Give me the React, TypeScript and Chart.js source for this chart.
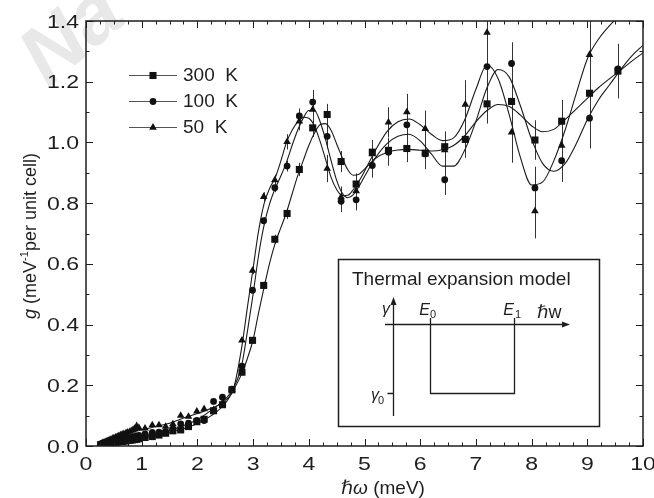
import React, { useEffect, useRef } from "react";
import { Chart, registerables } from "chart.js";

Chart.register(...registerables);

const FONT = "'Liberation Sans', Arial, Helvetica, 'DejaVu Sans', sans-serif";
const INK = "#1e1e1e";

// measured energies (meV)
const energies = [
  0.26, 0.28, 0.30, 0.32, 0.34, 0.36, 0.38, 0.40, 0.43, 0.45, 0.48, 0.50, 0.53,
  0.56, 0.59, 0.62, 0.65, 0.68, 0.72, 0.75, 0.79, 0.83, 0.87, 0.91, 0.95,
  1.06, 1.19, 1.31, 1.43, 1.56, 1.70, 1.84, 1.99, 2.12, 2.29, 2.45, 2.62,
  2.80, 2.99, 3.19, 3.39, 3.61, 3.83, 4.07, 4.33, 4.58, 4.85, 5.14, 5.43,
  5.76, 6.09, 6.44, 6.81, 7.20, 7.64, 8.06, 8.54, 9.04, 9.55,
];

const g300K = [
  0.004, 0.005, 0.006, 0.006, 0.007, 0.008, 0.008, 0.009, 0.010, 0.010, 0.011, 0.012, 0.012,
  0.013, 0.014, 0.015, 0.015, 0.016, 0.017, 0.018, 0.019, 0.020, 0.021, 0.022, 0.024,
  0.028, 0.031, 0.036, 0.042, 0.050, 0.053, 0.064, 0.080, 0.088, 0.116, 0.136, 0.185,
  0.243, 0.348, 0.529, 0.681, 0.766, 0.911, 1.048, 1.092, 0.937, 0.863, 0.968, 0.974,
  0.980, 0.965, 0.986, 1.010, 1.127, 1.135, 1.008, 1.070, 1.162, 1.235,
];
const g100K = [
  0.005, 0.006, 0.007, 0.008, 0.009, 0.010, 0.011, 0.012, 0.013, 0.014, 0.015, 0.016, 0.017,
  0.018, 0.019, 0.020, 0.021, 0.023, 0.024, 0.026, 0.027, 0.029, 0.031, 0.033, 0.035,
  0.040, 0.045, 0.046, 0.047, 0.056, 0.073, 0.075, 0.084, 0.084, 0.147, 0.161, 0.187,
  0.263, 0.513, 0.742, 0.851, 0.922, 1.087, 1.133, 1.020, 0.806, 0.811, 0.924, 0.968,
  1.058, 0.962, 0.877, 1.010, 1.250, 1.260, 0.850, 0.940, 1.080, 1.242,
];
const g50K = [
  0.006, 0.008, 0.010, 0.011, 0.013, 0.014, 0.016, 0.018, 0.020, 0.022, 0.024, 0.026, 0.028,
  0.031, 0.033, 0.036, 0.038, 0.040, 0.043, 0.045, 0.048, 0.052, 0.057, 0.066, 0.060,
  0.058, 0.069, 0.069, 0.064, 0.072, 0.100, 0.097, 0.114, 0.122, 0.119, 0.141, 0.185,
  0.348, 0.578, 0.821, 0.876, 1.002, 1.070, 1.108, 0.914, 0.820, 0.840, 0.962, 1.066,
  1.100, 1.045, 0.975, 1.125, 1.362, 1.033, 0.774, 0.990, 1.289, null,
];

const err300K = [
  0.002, 0.002, 0.002, 0.002, 0.002, 0.002, 0.002, 0.002, 0.002, 0.002, 0.002, 0.002, 0.002,
  0.002, 0.002, 0.002, 0.002, 0.002, 0.002, 0.002, 0.003, 0.003, 0.003, 0.003, 0.003,
  0.004, 0.004, 0.004, 0.005, 0.005, 0.005, 0.005, 0.006, 0.006, 0.006, 0.007, 0.007,
  0.008, 0.010, 0.012, 0.015, 0.018, 0.022, 0.030, 0.035, 0.035, 0.035, 0.040, 0.040,
  0.045, 0.045, 0.050, 0.060, 0.065, 0.070, 0.065, 0.070, 0.085, 0.090,
];
const err100K = [
  0.002, 0.002, 0.002, 0.002, 0.002, 0.002, 0.002, 0.002, 0.002, 0.002, 0.002, 0.002, 0.002,
  0.002, 0.002, 0.002, 0.002, 0.002, 0.002, 0.002, 0.003, 0.003, 0.003, 0.003, 0.003,
  0.004, 0.004, 0.004, 0.005, 0.005, 0.005, 0.005, 0.006, 0.006, 0.006, 0.007, 0.007,
  0.008, 0.010, 0.012, 0.015, 0.018, 0.025, 0.040, 0.040, 0.035, 0.035, 0.040, 0.045,
  0.050, 0.050, 0.050, 0.060, 0.070, 0.070, 0.070, 0.070, 0.100, 0.080,
];
const err50K = [
  0.002, 0.002, 0.002, 0.002, 0.002, 0.002, 0.002, 0.002, 0.002, 0.002, 0.002, 0.002, 0.002,
  0.002, 0.002, 0.002, 0.002, 0.002, 0.002, 0.002, 0.003, 0.003, 0.003, 0.003, 0.003,
  0.004, 0.004, 0.004, 0.005, 0.005, 0.005, 0.005, 0.006, 0.006, 0.006, 0.007, 0.007,
  0.008, 0.012, 0.015, 0.018, 0.025, 0.030, 0.040, 0.045, 0.035, 0.040, 0.045, 0.050,
  0.060, 0.060, 0.060, 0.080, 0.100, 0.100, 0.090, 0.080, 0.140, 0,
];

// fitted model curves
const fitEnergies = [
  0.25, 0.5, 0.75, 1.0, 1.25, 1.5, 1.75, 2.0, 2.25, 2.5, 2.65, 2.8,
  2.9, 3.0, 3.1, 3.2, 3.3, 3.4, 3.5, 3.6, 3.7, 3.8, 3.9, 4.0, 4.1, 4.2, 4.3, 4.4, 4.5, 4.6, 4.7, 4.8, 4.9,
  5.0, 5.2, 5.4, 5.6, 5.8, 6.0, 6.2, 6.4, 6.6, 6.8, 7.0, 7.2, 7.4, 7.6, 7.8, 8.0, 8.2, 8.4, 8.6, 8.8,
  9.0, 9.2, 9.4, 9.6, 9.8, 10.0,
];
const fit300K = [
  0.004, 0.011, 0.017, 0.025, 0.033, 0.045, 0.057, 0.074, 0.100, 0.140, 0.185, 0.24,
  0.29, 0.35, 0.44, 0.525, 0.605, 0.67, 0.72, 0.77, 0.83, 0.89, 0.94, 0.99, 1.03, 1.058, 1.062, 1.04, 0.995, 0.95, 0.91, 0.892, 0.895,
  0.912, 0.948, 0.967, 0.975, 0.977, 0.974, 0.972, 0.976, 0.99, 1.022, 1.068, 1.105, 1.125, 1.118, 1.09, 1.055, 1.035, 1.043, 1.075, 1.11,
  1.145, 1.18, 1.21, 1.238, 1.268, 1.295,
];
const fit100K = [
  0.004, 0.013, 0.021, 0.030, 0.040, 0.052, 0.067, 0.087, 0.118, 0.155, 0.19, 0.27,
  0.38, 0.50, 0.63, 0.73, 0.80, 0.85, 0.89, 0.935, 0.99, 1.04, 1.08, 1.105, 1.105, 1.07, 1.01, 0.94, 0.875, 0.833, 0.818, 0.828, 0.855,
  0.888, 0.95, 0.995, 1.02, 1.027, 1.005, 0.962, 0.922, 0.922, 0.975, 1.07, 1.18, 1.24, 1.215, 1.12, 1.01, 0.93, 0.905, 0.93, 0.995,
  1.075, 1.14, 1.19, 1.24, 1.285, 1.32,
];
const fit50K = [
  0.005, 0.022, 0.040, 0.053, 0.064, 0.075, 0.092, 0.107, 0.124, 0.150, 0.19, 0.33,
  0.46, 0.585, 0.71, 0.80, 0.85, 0.885, 0.94, 1.0, 1.04, 1.068, 1.083, 1.08, 1.055, 1.005, 0.945, 0.885, 0.845, 0.825, 0.826, 0.845, 0.872,
  0.905, 0.975, 1.035, 1.068, 1.077, 1.058, 1.027, 1.006, 1.015, 1.075, 1.175, 1.255, 1.21, 1.09, 0.95, 0.86, 0.87, 0.94, 1.04, 1.16,
  1.275, 1.34, 1.385, 1.42, 1.45, 1.48,
];

const seriesLabels = ["300  K", "100  K", "50  K"];
const seriesStyles = ["rect", "circle", "triangle"];
const xTickValues = [0, 1, 2, 3, 4, 5, 6, 7, 8, 9, 10];
const yTickValues = [0, 0.2, 0.4, 0.6, 0.8, 1.0, 1.2, 1.4];

const pts = (xs: number[], ys: (number | null)[]) =>
  xs.map((x, i) => ({ x, y: ys[i] }));

const RADII: Record<string, number> = { rect: 5, circle: 3.4, triangle: 4.4 };

function drawMarker(ctx: CanvasRenderingContext2D, style: string, x: number, y: number) {
  const r = RADII[style];
  ctx.beginPath();
  if (style === "rect") {
    const s = Math.SQRT1_2 * r;
    ctx.rect(x - s, y - s, 2 * s, 2 * s);
  } else if (style === "circle") {
    ctx.arc(x, y, r, 0, Math.PI * 2);
  } else {
    let a = 0;
    ctx.moveTo(x + Math.sin(a) * r, y - Math.cos(a) * r);
    a += (2 * Math.PI) / 3;
    ctx.lineTo(x + Math.sin(a) * r, y - Math.cos(a) * r);
    a += (2 * Math.PI) / 3;
    ctx.lineTo(x + Math.sin(a) * r, y - Math.cos(a) * r);
    ctx.closePath();
  }
  ctx.fill();
}

// draws text horizontally widened (the source figure's tick labels are stretched)
function wideText(ctx: CanvasRenderingContext2D, t: string, x: number, y: number, align: "left" | "right" | "center", sx: number) {
  ctx.save();
  ctx.translate(x, y);
  ctx.scale(sx, 1);
  ctx.textAlign = align;
  ctx.fillText(t, 0, 0);
  ctx.restore();
}

const decoPlugin = {
  id: "deco",
  beforeDraw(chart: any) {
    const { ctx } = chart;
    ctx.save();
    ctx.fillStyle = "#fff";
    ctx.fillRect(0, 0, chart.width, chart.height);
    // faint source watermark
    ctx.translate(48, 88);
    ctx.rotate(-40 * Math.PI / 180);
    ctx.fillStyle = "#e8e8e8";
    ctx.font = `italic bold 82px ${FONT}`;
    ctx.fillText("Na", 0, 0);
    ctx.restore();
  },
  beforeDatasetsDraw(chart: any) {
    const { ctx, chartArea: a, scales } = chart;
    const xs = scales.x, ys = scales.y;
    const sets = [
      [g300K, err300K],
      [g100K, err100K],
      [g50K, err50K],
    ] as const;
    ctx.save();
    ctx.beginPath();
    ctx.rect(a.left, a.top, a.right - a.left, a.bottom - a.top);
    ctx.clip();
    ctx.strokeStyle = "#333";
    ctx.lineWidth = 1;
    sets.forEach(([vals, errs]) => {
      energies.forEach((e, i) => {
        const v = vals[i];
        if (v == null || !errs[i]) return;
        const px = Math.round(xs.getPixelForValue(e)) + 0.5;
        ctx.beginPath();
        ctx.moveTo(px, ys.getPixelForValue(v - errs[i]));
        ctx.lineTo(px, ys.getPixelForValue(v + errs[i]));
        ctx.stroke();
      });
    });
    ctx.restore();
  },
  afterDraw(chart: any) {
    const { ctx, chartArea: a, scales } = chart;
    const xs = scales.x, ys = scales.y;
    ctx.save();
    // frame
    ctx.strokeStyle = INK;
    ctx.lineWidth = 1.5;
    ctx.strokeRect(a.left, a.top, a.right - a.left, a.bottom - a.top);
    // inward ticks
    ctx.lineWidth = 1;
    const major = 7, minor = 3.5;
    for (let v = 0; v <= 10.001; v += 0.25) {
      const px = Math.round(xs.getPixelForValue(v)) + 0.5;
      const len = Math.abs(v - Math.round(v)) < 1e-6 ? major : minor;
      ctx.beginPath();
      ctx.moveTo(px, a.bottom); ctx.lineTo(px, a.bottom - len);
      ctx.moveTo(px, a.top); ctx.lineTo(px, a.top + len);
      ctx.stroke();
    }
    for (let k = 0; k <= 14; k++) {
      const v = k / 10;
      const py = Math.round(ys.getPixelForValue(v)) + 0.5;
      const len = k % 2 === 0 ? major : minor;
      ctx.beginPath();
      ctx.moveTo(a.left, py); ctx.lineTo(a.left + len, py);
      ctx.moveTo(a.right, py); ctx.lineTo(a.right - len, py);
      ctx.stroke();
    }

    ctx.fillStyle = INK;
    // tick labels
    ctx.font = `18px ${FONT}`;
    ctx.textBaseline = "alphabetic";
    xTickValues.forEach((v) => {
      wideText(ctx, String(v), xs.getPixelForValue(v), a.bottom + 24, "center", 1.28);
    });
    yTickValues.forEach((v) => {
      wideText(ctx, v.toFixed(1), a.left - 7, ys.getPixelForValue(v) + 6.5, "right", 1.28);
    });

    // x axis title
    {
      const parts = [
        { t: "\u210F\u03C9", f: `italic 19px ${FONT}` },
        { t: " (meV)", f: `19px ${FONT}` },
      ];
      let w = 0;
      parts.forEach((p) => { ctx.font = p.f; w += ctx.measureText(p.t).width; });
      let x = 383 - w / 2;
      parts.forEach((p) => { ctx.font = p.f; ctx.fillText(p.t, x, 494); x += ctx.measureText(p.t).width; });
    }
    // y axis title
    {
      ctx.save();
      ctx.translate(36, 236);
      ctx.rotate(-Math.PI / 2);
      const parts = [
        { t: "g", f: `italic 18px ${FONT}`, dy: 0 },
        { t: " (meV", f: `18px ${FONT}`, dy: 0 },
        { t: "-1", f: `11px ${FONT}`, dy: -8 },
        { t: "per unit cell)", f: `18px ${FONT}`, dy: 0 },
      ];
      let w = 0;
      parts.forEach((p) => { ctx.font = p.f; w += ctx.measureText(p.t).width; });
      let x = -w / 2;
      parts.forEach((p) => { ctx.font = p.f; ctx.fillText(p.t, x, p.dy); x += ctx.measureText(p.t).width; });
      ctx.restore();
    }

    // legend
    const rows = [75, 101, 127];
    seriesLabels.forEach((lab, i) => {
      const y = rows[i];
      ctx.strokeStyle = "#555";
      ctx.lineWidth = 1.2;
      ctx.beginPath();
      ctx.moveTo(129, y + 0.5); ctx.lineTo(177, y + 0.5);
      ctx.stroke();
      ctx.fillStyle = "#111";
      drawMarker(ctx, seriesStyles[i], 153, y + 0.5);
      ctx.fillStyle = INK;
      ctx.font = `19px ${FONT}`;
      ctx.textBaseline = "middle";
      ctx.fillText(lab, 183, y + 1);
    });
    ctx.textBaseline = "alphabetic";

    // inset: thermal expansion model
    ctx.strokeStyle = INK;
    ctx.lineWidth = 1.5;
    ctx.strokeRect(338.5, 259.5, 261, 167);
    ctx.fillStyle = INK;
    ctx.font = `19px ${FONT}`;
    ctx.fillText("Thermal expansion model", 352, 285);
    ctx.lineWidth = 1.3;
    ctx.beginPath();
    ctx.moveTo(393.5, 416); ctx.lineTo(393.5, 302);
    ctx.moveTo(385, 324.5); ctx.lineTo(565, 324.5);
    ctx.moveTo(430.5, 318); ctx.lineTo(430.5, 393.5); ctx.lineTo(514.5, 393.5); ctx.lineTo(514.5, 318);
    ctx.moveTo(387.5, 393.5); ctx.lineTo(393.5, 393.5);
    ctx.stroke();
    ctx.beginPath();
    ctx.moveTo(393.5, 297); ctx.lineTo(390.5, 305); ctx.lineTo(396.5, 305); ctx.closePath();
    ctx.moveTo(570, 324.5); ctx.lineTo(562, 321.5); ctx.lineTo(562, 327.5); ctx.closePath();
    ctx.fill();
    ctx.font = `italic 16px ${FONT}`;
    ctx.textAlign = "right";
    ctx.fillText("\u03B3", 390, 314);
    ctx.fillText("E", 430, 315);
    ctx.fillText("E", 514, 315);
    ctx.fillText("\u03B3", 379, 400);
    ctx.textAlign = "left";
    ctx.font = `11px ${FONT}`;
    ctx.fillText("0", 430, 318);
    ctx.fillText("1", 515, 318);
    ctx.fillText("0", 378, 404);
    ctx.font = `italic 18px ${FONT}`;
    ctx.fillText("\u210F", 537, 318);
    const hw = ctx.measureText("\u210F").width;
    ctx.font = `18px ${FONT}`;
    ctx.fillText("w", 537 + hw, 318);
    ctx.restore();
  },
};

export default function App() {
  const ref = useRef<HTMLCanvasElement | null>(null);
  useEffect(() => {
    document.body.style.margin = "0";
    const canvas = ref.current!;
    const markerSet = (label: string, vals: (number | null)[], style: string) => ({
      label,
      data: pts(energies, vals),
      showLine: false,
      pointStyle: style,
      pointRadius: RADII[style],
      pointHoverRadius: RADII[style],
      pointBackgroundColor: "#111",
      pointBorderColor: "#111",
      pointBorderWidth: 0,
    });
    const fitSet = (label: string, vals: number[]) => ({
      label,
      data: pts(fitEnergies, vals),
      showLine: true,
      pointRadius: 0,
      borderColor: "#1a1a1a",
      borderWidth: 1.1,
      cubicInterpolationMode: "monotone" as const,
      fill: false,
    });
    const chart = new Chart(canvas, {
      type: "scatter",
      data: {
        datasets: [
          markerSet(seriesLabels[0], g300K, seriesStyles[0]),
          markerSet(seriesLabels[1], g100K, seriesStyles[1]),
          markerSet(seriesLabels[2], g50K, seriesStyles[2]),
          fitSet("fit 300 K", fit300K),
          fitSet("fit 100 K", fit100K),
          fitSet("fit 50 K", fit50K),
        ],
      },
      options: {
        responsive: false,
        animation: false,
        devicePixelRatio: 1,
        layout: { padding: { top: 21, right: 11, left: 0, bottom: 0 } },
        plugins: { legend: { display: false }, tooltip: { enabled: false } },
        scales: {
          x: {
            type: "linear",
            min: 0,
            max: 10,
            afterFit: (s: any) => { s.height = 52; s.paddingLeft = 0; s.paddingRight = 0; },
            afterBuildTicks: (s: any) => { s.ticks = xTickValues.map((v) => ({ value: v })); },
            grid: { display: false, drawTicks: false },
            border: { display: false },
            ticks: { display: false },
          },
          y: {
            type: "linear",
            min: 0,
            max: 1.4,
            afterFit: (s: any) => { s.width = 86; s.paddingTop = 0; s.paddingBottom = 0; },
            afterBuildTicks: (s: any) => { s.ticks = yTickValues.map((v) => ({ value: v })); },
            grid: { display: false, drawTicks: false },
            border: { display: false },
            ticks: { display: false },
          },
        },
      },
      plugins: [decoPlugin],
    });
    return () => chart.destroy();
  }, []);
  return <canvas ref={ref} width={654} height={498} style={{ display: "block" }} />;
}
